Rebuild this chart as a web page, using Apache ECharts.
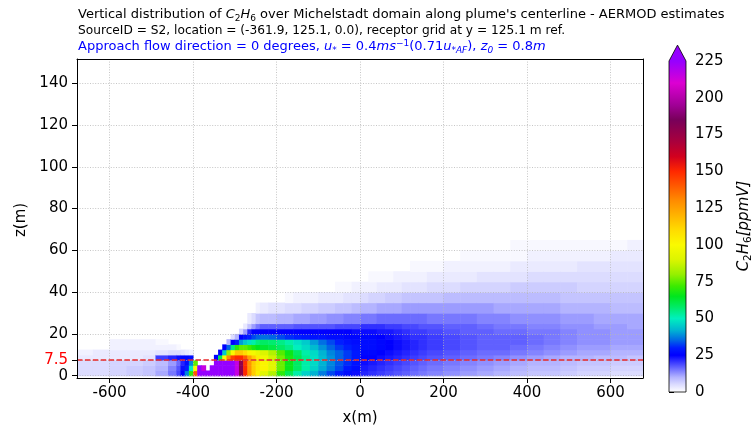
<!DOCTYPE html>
<html>
<head>
<meta charset="utf-8">
<title>C2H6 vertical distribution - AERMOD</title>
<script src="https://cdn.jsdelivr.net/npm/echarts@6/dist/echarts.min.js"></script>
<style>
  html, body { margin: 0; padding: 0; background: #fff; }
  #main { width: 752px; height: 432px; }
</style>
</head>
<body>
<div id="main"></div>
<script>
// receptor cell edges along the plume centerline (m)
var xEdges = [-680, -640, -600, -560, -520, -490, -460, -440, -430, -420, -410, -400, -390, -380, -370,
  -360, -350, -340, -330, -320, -310, -300, -290, -280, -270, -260, -250, -240, -220, -200, -180, -160,
  -140, -120, -100, -80, -60, -40, -20, 0, 20, 40, 60, 80, 100, 120, 140, 160, 200, 240, 280, 320, 360,
  400, 440, 480, 520, 560, 600, 640, 680];
var zEdges = [0, 2.5, 5, 7.5, 10, 12.5, 15, 17.5, 20, 22.5, 25, 30, 35, 40, 45, 50, 55, 60, 65, 70];

// C2H6 (ppmV) per x column, lowest cell first; cells not listed are empty
var conc = [
  [5, 5, 5, 3, 2],
  [5, 5, 5, 3, 3],
  [6, 6, 6, 3, 3, 2, 2],
  [7, 7, 6, 3, 3, 2, 2],
  [8, 8, 7, 4, 3, 2, 2],
  [11, 10, 9, 20, 4, 2, 1],
  [15, 14, 12, 22, 5, 2],
  [19, 18, 16, 24, 5, 1],
  [25, 24, 22, 26, 4],
  [38, 30, 27, 26, 3],
  [70, 50, 38, 27, 2],
  [140, 100, 75],
  [225, 225],
  [225, 215],
  [225],
  [225, 225],
  [225, 225, 225, 25],
  [225, 225, 225, 60, 25],
  [225, 225, 225, 100, 45, 25],
  [225, 225, 225, 130, 80, 35, 10],
  [225, 225, 225, 145, 100, 55, 25, 5],
  [215, 215, 215, 150, 115, 70, 30, 10],
  [180, 180, 178, 150, 115, 75, 40, 25, 6],
  [150, 150, 148, 140, 110, 75, 45, 28, 12, 3],
  [128, 128, 128, 125, 102, 72, 48, 30, 22, 8, 3],
  [114, 114, 114, 114, 98, 68, 52, 33, 25, 12, 5],
  [104, 106, 107, 105, 94, 65, 56, 35, 25, 15, 8, 2],
  [92, 102, 102, 96, 90, 63, 58, 36, 25, 17, 9, 3],
  [84, 92, 92, 88, 84, 61, 57, 35, 25, 17, 9, 4],
  [70, 76, 76, 77, 74, 58, 55, 33, 25, 17, 10, 4],
  [60, 66, 66, 68, 66, 55, 52, 31, 25, 17, 10, 5, 1],
  [52, 58, 58, 60, 58, 50, 48, 30, 25, 18, 11, 5, 2],
  [46, 52, 52, 54, 52, 47, 45, 29, 25, 18, 11, 6, 2],
  [42, 46, 47, 48, 47, 43, 40, 28, 25, 18, 12, 6, 2],
  [37, 41, 42, 43, 42, 39, 36, 28, 25, 18, 12, 7, 3],
  [33, 37, 38, 39, 38, 35, 33, 27, 25, 18, 13, 7, 3],
  [30, 33, 34, 35, 35, 32, 30, 27, 25, 19, 13, 8, 3, 1],
  [27, 29, 31, 32, 32, 30, 28, 26, 25, 19, 14, 8, 4, 1],
  [24, 27, 28, 29, 29, 28, 27, 26, 24, 19, 14, 9, 4, 2],
  [22, 23, 24, 25, 26, 27, 27, 26, 24, 21, 15, 10, 5, 2],
  [21, 22, 23, 25, 26, 27, 27, 26, 24, 21, 15, 10, 6, 2, 1],
  [20, 21, 22, 24, 25, 26, 26, 25, 23, 21, 16, 11, 6, 3, 1],
  [19, 20, 21, 23, 24, 25, 25, 24, 23, 20, 16, 11, 7, 3, 1],
  [18, 19, 20, 22, 23, 24, 24, 23, 22, 20, 16, 11, 7, 3, 2],
  [17, 18, 19, 21, 22, 23, 23, 22, 21, 19, 16, 12, 8, 4, 2],
  [16, 17, 18, 20, 21, 22, 22, 21, 20, 19, 16, 12, 8, 4, 2, 1],
  [15, 16, 17, 19, 20, 21, 21, 21, 20, 18, 16, 12, 8, 4, 2, 1],
  [14, 15, 16, 18, 19, 20, 20, 20, 19, 18, 15, 12, 8, 5, 3, 1],
  [13, 14, 15, 17, 18, 19, 19, 19, 18, 17, 15, 12, 9, 5, 3, 2],
  [12, 13, 14, 16, 17, 18, 18, 18, 17, 17, 15, 12, 9, 6, 3, 2, 1],
  [11, 12, 13, 15, 16, 17, 17, 17, 17, 16, 14, 12, 9, 6, 4, 2, 1],
  [10, 11, 12, 14, 16, 17, 17, 17, 16, 15, 14, 11, 9, 6, 4, 2, 1],
  [9, 10, 11, 13, 15, 16, 17, 17, 16, 15, 13, 11, 9, 7, 4, 3, 1, 1],
  [8, 9, 10, 12, 14, 15, 16, 16, 15, 14, 13, 11, 9, 7, 5, 3, 2, 1],
  [8, 9, 10, 11, 13, 14, 15, 15, 15, 14, 13, 11, 9, 7, 5, 3, 2, 1],
  [7, 8, 9, 10, 12, 13, 14, 14, 14, 13, 12, 10, 8, 7, 5, 3, 2, 1],
  [6, 7, 8, 10, 11, 12, 13, 13, 13, 13, 12, 10, 8, 6, 5, 4, 2, 1],
  [6, 7, 8, 9, 11, 12, 13, 13, 13, 12, 11, 10, 8, 6, 5, 4, 2, 1],
  [5, 6, 7, 9, 10, 11, 12, 12, 12, 12, 11, 9, 8, 6, 5, 4, 3, 1],
  [5, 6, 7, 8, 10, 11, 12, 12, 12, 11, 11, 9, 8, 6, 5, 4, 3, 2]
];

var xTicks = [-600, -400, -200, 0, 200, 400, 600];
var zTicks = [0, 7.5, 20, 40, 60, 80, 100, 120, 140];
var cbTicks = [0, 10, 25, 50, 75, 100, 125, 150, 175, 200, 225];
var refZ = 7.5;   // red dashed reference height

// colour scale of the colorbar
var cmapValues = [0, 5, 10, 15, 20, 25, 30, 35, 42, 50, 58, 65, 72, 80, 90, 100, 110, 120, 130, 140,
  150, 160, 170, 185, 195, 210, 225];
var cmapColors = ['#ffffff', '#dcdcff', '#b4b4ff', '#7878ff', '#3c3cff', '#0000ff', '#001eff', '#0064e6',
  '#00b4d2', '#00f0be', '#00eb64', '#00e61e', '#3ceb00', '#96f000', '#dcf500', '#fafa00', '#ffdc00',
  '#ffb400', '#ff8c00', '#ff5a00', '#ff2800', '#d2001e', '#aa003c', '#78005a', '#a00096', '#dc00d2',
  '#9600ff'];
var cbMax = 225;

var FONT = 'DejaVu Sans';

function hexRgb(h) {
  return [parseInt(h.substr(1, 2), 16), parseInt(h.substr(3, 2), 16), parseInt(h.substr(5, 2), 16)];
}
var cmapRgb = cmapColors.map(hexRgb);

function cmap(v) {
  if (v <= cmapValues[0]) return cmapColors[0];
  if (v >= cbMax) return cmapColors[cmapColors.length - 1];
  for (var k = 1; k < cmapValues.length; k++) {
    if (v <= cmapValues[k]) {
      var t = (v - cmapValues[k - 1]) / (cmapValues[k] - cmapValues[k - 1]);
      var a = cmapRgb[k - 1], b = cmapRgb[k];
      return 'rgb(' + Math.round(a[0] + (b[0] - a[0]) * t) + ',' + Math.round(a[1] + (b[1] - a[1]) * t) + ',' +
        Math.round(a[2] + (b[2] - a[2]) * t) + ')';
    }
  }
  return cmapColors[cmapColors.length - 1];
}

var cells = [];
for (var i = 0; i < conc.length; i++) {
  for (var j = 0; j < conc[i].length; j++) {
    if (conc[i][j] > 0) {
      cells.push([xEdges[i], xEdges[i + 1], zEdges[j], zEdges[j + 1], conc[i][j]]);
    }
  }
}

function renderCell(params, api) {
  var p0 = api.coord([api.value(0), api.value(3)]);
  var p1 = api.coord([api.value(1), api.value(2)]);
  var cs = params.coordSys;
  var shape = echarts.graphic.clipRectByRect(
    { x: p0[0], y: p0[1], width: p1[0] - p0[0] + 0.6, height: p1[1] - p0[1] + 0.6 },
    { x: cs.x, y: cs.y, width: cs.width, height: cs.height });
  if (!shape) return;
  return { type: 'rect', shape: shape, style: { fill: cmap(api.value(4)) } };
}

function renderColorbar(params, api) {
  var a = api.coord([0, 0]);
  var b = api.coord([1, cbMax]);
  var tip = api.coord([0.5, cbMax * 1.048]);
  var stops = cmapValues.map(function (v, k) { return { offset: v / cbMax, color: cmapColors[k] }; });
  return {
    type: 'group',
    children: [
      { type: 'rect', shape: { x: a[0], y: b[1], width: b[0] - a[0], height: a[1] - b[1] },
        style: { fill: new echarts.graphic.LinearGradient(0, 1, 0, 0, stops) } },
      { type: 'polygon', shape: { points: [[a[0], b[1]], [b[0], b[1]], tip] },
        style: { fill: cmapColors[cmapColors.length - 1] } },
      { type: 'polygon', shape: { points: [a, [b[0], a[1]], b, tip, [a[0], b[1]]] },
        style: { fill: null, stroke: '#000', lineWidth: 0.8 } }
    ]
  };
}

var TS = 13;   // title font size
var sub = { fontFamily: FONT, fontSize: 9, lineHeight: 8, verticalAlign: 'bottom' };
function st(extra) { return Object.assign({ fontFamily: FONT, fontSize: TS, lineHeight: 16 }, extra); }

var titleLines = [
  '{n|Vertical distribution of }{i|C}{s|2}{i|H}{s|6}{n| over Michelstadt domain along plume\'s centerline - AERMOD estimates}',
  '{m|SourceID = S2, location = (-361.9, 125.1, 0.0), receptor grid at y = 125.1 m ref.}',
  '{b|Approach flow direction = 0 degrees, }{bi|u}{bs|*}{b| = 0.4}{bi|ms}{bp|\u22121}{b|(0.71}{bi|u}{bs|*AF}{b|), }{bi|z}{bs|0}{b| = 0.8}{bi|m}'
];

var chart = echarts.init(document.getElementById('main'));
chart.setOption({
  animation: false,
  backgroundColor: '#fff',
  title: {
    left: 78, top: 7, padding: 0,
    text: titleLines.join('\n'),
    textStyle: {
      fontFamily: FONT, fontSize: TS, fontWeight: 'normal', lineHeight: 16, color: '#000',
      rich: {
        n: st({ color: '#000' }),
        m: st({ color: '#000', fontSize: 12.2 }),
        i: st({ color: '#000', fontStyle: 'italic' }),
        s: Object.assign({}, sub, { color: '#000' }),
        b: st({ color: '#0000ff' }),
        bi: st({ color: '#0000ff', fontStyle: 'italic' }),
        bs: Object.assign({}, sub, { color: '#0000ff', fontStyle: 'italic' }),
        bp: { fontFamily: FONT, fontSize: 9, lineHeight: 8, verticalAlign: 'top', color: '#0000ff' }
      }
    }
  },
  grid: [
    { left: 77, top: 59, width: 566, height: 319 },
    { left: 669, top: 61, width: 17, height: 331 }
  ],
  xAxis: [
    {
      gridIndex: 0, type: 'value', min: -678, max: 678, z: 5,
      axisLine: { onZero: false, lineStyle: { color: '#000', width: 1 } },
      axisTick: { customValues: xTicks, length: 5, lineStyle: { color: '#000' } },
      axisLabel: { customValues: xTicks, fontFamily: FONT, fontSize: 15, color: '#000', margin: 8 },
      splitLine: { show: true, lineStyle: { color: '#b8b8b8', width: 0.8, type: [1, 1.6] } }
    },
    {
      gridIndex: 0, type: 'value', position: 'top', min: -678, max: 678, z: 5,
      axisLine: { onZero: false, lineStyle: { color: '#000', width: 1 } },
      axisTick: { show: false }, axisLabel: { show: false }, splitLine: { show: false }
    },
    { gridIndex: 1, type: 'value', min: 0, max: 1, show: false }
  ],
  yAxis: [
    {
      gridIndex: 0, type: 'value', min: -1.1, max: 151.6, z: 5,
      axisLine: { onZero: false, lineStyle: { color: '#000', width: 1 } },
      axisTick: { customValues: zTicks, length: 5, lineStyle: { color: '#000' } },
      axisLabel: {
        customValues: zTicks, fontFamily: FONT, fontSize: 15, margin: 9, lineHeight: 12, showMinLabel: true,
        color: function (v) { return Number(v) === refZ ? '#ff0000' : '#000'; }
      },
      splitLine: { show: true, lineStyle: { color: '#b8b8b8', width: 0.8, type: [1, 1.6] } }
    },
    {
      gridIndex: 0, type: 'value', position: 'right', min: -1.1, max: 151.6, z: 5,
      axisLine: { onZero: false, lineStyle: { color: '#000', width: 1 } },
      axisTick: { show: false }, axisLabel: { show: false }, splitLine: { show: false }
    },
    {
      gridIndex: 1, type: 'value', position: 'right', min: 0, max: cbMax,
      axisLine: { show: false },
      axisTick: { customValues: cbTicks, length: 5, lineStyle: { color: '#000' } },
      axisLabel: { customValues: cbTicks, fontFamily: FONT, fontSize: 15, color: '#000', margin: 9,
        lineHeight: 12, showMinLabel: true, showMaxLabel: true },
      splitLine: { show: false }
    }
  ],
  series: [
    {
      type: 'custom', xAxisIndex: 0, yAxisIndex: 0, z: 2, silent: true,
      renderItem: renderCell, data: cells
    },
    {
      type: 'line', xAxisIndex: 0, yAxisIndex: 0, z: 6, data: [], silent: true,
      markLine: {
        silent: true, symbol: ['none', 'none'], label: { show: false },
        lineStyle: { color: '#e8282b', width: 1.5, type: [5.5, 2.4] },
        data: [{ yAxis: refZ }]
      }
    },
    {
      type: 'custom', xAxisIndex: 2, yAxisIndex: 2, silent: true,
      renderItem: renderColorbar, data: [[0, cbMax]]
    }
  ],
  graphic: [
    { type: 'text', x: 360, y: 418, style: { text: 'x(m)', fontFamily: FONT, fontSize: 15, fill: '#000',
      align: 'center', verticalAlign: 'middle' } },
    { type: 'text', x: 21, y: 220, rotation: Math.PI / 2, style: { text: 'z(m)', fontFamily: FONT,
      fontSize: 15, fill: '#000', align: 'center', verticalAlign: 'middle' } },
    { type: 'text', x: 744, y: 226, rotation: Math.PI / 2, style: {
      text: '{i|C}{s|2}{i|H}{s|6}{i|[ppmV]}', align: 'center', verticalAlign: 'middle',
      rich: {
        i: { fontFamily: FONT, fontSize: 15, lineHeight: 20, fontStyle: 'italic', fill: '#000' },
        s: { fontFamily: FONT, fontSize: 10.5, lineHeight: 10, verticalAlign: 'bottom', fill: '#000' }
      } } }
  ]
});
</script>
</body>
</html>
